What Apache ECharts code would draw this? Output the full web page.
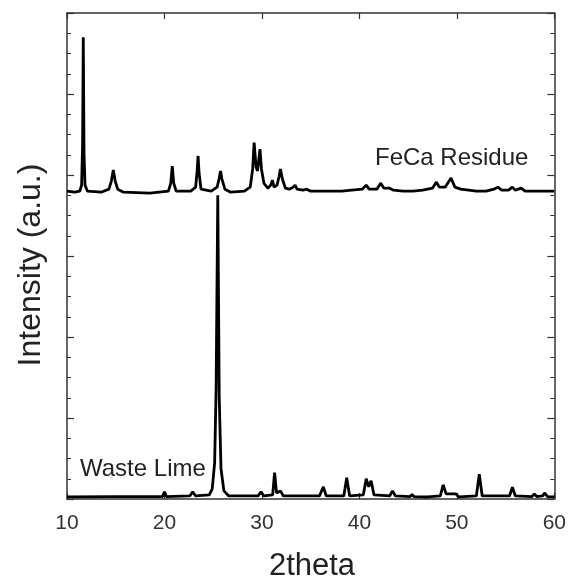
<!DOCTYPE html>
<html>
<head>
<meta charset="utf-8">
<script src="https://cdn.jsdelivr.net/npm/echarts@6/dist/echarts.min.js"></script>
<style>html,body{margin:0;padding:0;background:#fff;}#chart{width:569px;height:583px;}</style>
</head>
<body>
<div id="chart"></div>
<script>
// x-axis tick labels
const xTicks = [10, 20, 30, 40, 50, 60];

// FeCa Residue pattern: [2theta, intensity (a.u., offset)]
const fecaResidue = [
  [10.0,15.2],[10.8,15.15],[11.3,15.2],[11.5,15.5],[11.6,17.5],[11.67,22.8],[11.75,17.0],[11.85,15.5],[12.1,15.2],
  [13.5,15.15],[14.3,15.3],[14.55,15.7],[14.75,16.25],[14.95,15.7],[15.2,15.3],[15.8,15.15],
  [18.5,15.1],[20.4,15.2],[20.65,15.6],[20.8,16.44],[20.95,15.6],[21.2,15.2],
  [22.7,15.2],[23.2,15.4],[23.35,16.2],[23.45,16.94],[23.55,16.1],[23.75,15.3],
  [24.8,15.2],[25.4,15.4],[25.6,15.8],[25.75,16.2],[25.9,15.8],[26.2,15.3],[26.8,15.15],
  [28.2,15.2],[28.8,15.4],[29.05,16.3],[29.2,17.6],[29.4,16.4],[29.55,16.2],[29.8,17.28],[29.95,16.3],[30.2,15.6],
  [30.6,15.35],[30.9,15.5],[31.07,15.75],[31.25,15.4],[31.55,15.5],[31.75,15.9],[31.9,16.3],[32.1,15.8],[32.4,15.35],
  [32.8,15.3],[33.2,15.4],[33.4,15.5],[33.6,15.3],[34.2,15.25],[34.6,15.3],[35.0,15.2],[36.0,15.2],[37.2,15.2],
  [38.2,15.2],[39.2,15.25],[40.3,15.3],[40.7,15.5],[41.0,15.3],[41.8,15.3],[42.2,15.6],[42.5,15.35],[43.1,15.35],
  [43.5,15.25],[44.5,15.2],[45.5,15.2],[46.5,15.25],[47.5,15.35],[47.9,15.65],[48.2,15.4],[48.8,15.4],[49.4,15.85],
  [49.8,15.4],[50.4,15.3],[51.2,15.25],[52.0,15.2],[53.0,15.2],[53.8,15.3],[54.2,15.4],[54.6,15.25],[55.3,15.25],
  [55.7,15.4],[56.0,15.25],[56.6,15.35],[57.0,15.2],[58.0,15.2],[59.0,15.2],[60.0,15.2]
];

// Waste Lime pattern: [2theta, intensity (a.u.)]
const wasteLime = [
  [10,0.1],[15,0.12],[19.8,0.12],[20.0,0.35],[20.2,0.12],[22.6,0.15],[22.9,0.35],[23.2,0.15],[24.6,0.2],[24.9,0.5],
  [25.15,1.8],[25.3,5.5],[25.47,15.0],[25.62,5.0],[25.8,1.5],[26.1,0.4],[26.6,0.15],[29.6,0.15],[29.9,0.35],[30.2,0.15],
  [31.1,0.2],[31.3,1.3],[31.5,0.3],[31.9,0.4],[32.2,0.15],[35.9,0.15],[36.3,0.6],[36.6,0.15],[38.4,0.15],[38.7,1.05],
  [39.0,0.15],[40.4,0.2],[40.7,1.0],[40.95,0.6],[41.2,0.9],[41.5,0.2],[43.1,0.15],[43.4,0.4],[43.7,0.15],[45.2,0.12],
  [45.4,0.22],[45.6,0.12],[46.6,0.1],[46.8,0.18],[47.0,0.1],[48.3,0.15],[48.6,0.7],[48.9,0.25],[49.9,0.25],[50.2,0.1],
  [52.0,0.15],[52.3,1.22],[52.6,0.15],[55.4,0.15],[55.7,0.58],[56.0,0.15],[57.7,0.12],[57.95,0.25],[58.2,0.12],
  [58.8,0.15],[59.0,0.3],[59.3,0.12],[60,0.1]
];

const seriesNames = ['FeCa Residue', 'Waste Lime'];
const xName = '2theta';
const yName = 'Intensity (a.u.)';

const FONT = '"Liberation Sans", Arial, Helvetica, sans-serif';
const axisColor = '#333';

function xAxisCfg(pos, showLabel) {
  return {
    type: 'value', position: pos, min: 10, max: 60, interval: 10,
    axisLine: { show: true, onZero: false, lineStyle: { color: axisColor, width: 1.5 } },
    axisTick: { show: true, inside: true, length: 6, lineStyle: { color: axisColor, width: 1.2 } },
    axisLabel: { show: showLabel, fontSize: 21, color: '#333', fontFamily: FONT, margin: 14,
      formatter: v => xTicks.includes(v) ? String(v) : '' },
    splitLine: { show: false }
  };
}
function yAxisCfg(pos) {
  return {
    type: 'value', position: pos, min: 0, max: 24, interval: 4,
    axisLine: { show: true, onZero: false, lineStyle: { color: axisColor, width: 1.5 } },
    axisTick: { show: true, inside: true, length: 7, lineStyle: { color: axisColor, width: 1.2 } },
    minorTick: { show: true, splitNumber: 4, length: 4, lineStyle: { color: axisColor, width: 1 } },
    axisLabel: { show: false },
    splitLine: { show: false }
  };
}

const chart = echarts.init(document.getElementById('chart'), null, { renderer: 'canvas' });
chart.setOption({
  animation: false,
  backgroundColor: '#fff',
  grid: { left: 67, right: 14, top: 13, bottom: 84 },
  xAxis: [xAxisCfg('bottom', true), xAxisCfg('top', false)],
  yAxis: [yAxisCfg('left'), yAxisCfg('right')],
  series: [
    { name: seriesNames[0], type: 'line', data: fecaResidue, xAxisIndex: 0, yAxisIndex: 0,
      showSymbol: false, lineStyle: { color: '#000', width: 2.8 }, z: 3 },
    { name: seriesNames[1], type: 'line', data: wasteLime, xAxisIndex: 0, yAxisIndex: 0,
      showSymbol: false, lineStyle: { color: '#000', width: 2.8 }, z: 3 }
  ],
  graphic: [
    { type: 'text', left: 375, top: 146, style: { text: seriesNames[0], font: '24px ' + FONT, fill: '#222' } },
    { type: 'text', left: 80, top: 457, style: { text: seriesNames[1], font: '24px ' + FONT, fill: '#222' } },
    { type: 'text', x: 312, y: 566, style: { text: xName, font: '31px ' + FONT, fill: '#222', align: 'center', verticalAlign: 'middle' } },
    { type: 'text', x: 31, y: 265, rotation: Math.PI / 2, style: { text: yName, font: '32px ' + FONT, fill: '#222', align: 'center', verticalAlign: 'middle' } }
  ]
});
</script>
</body>
</html>
